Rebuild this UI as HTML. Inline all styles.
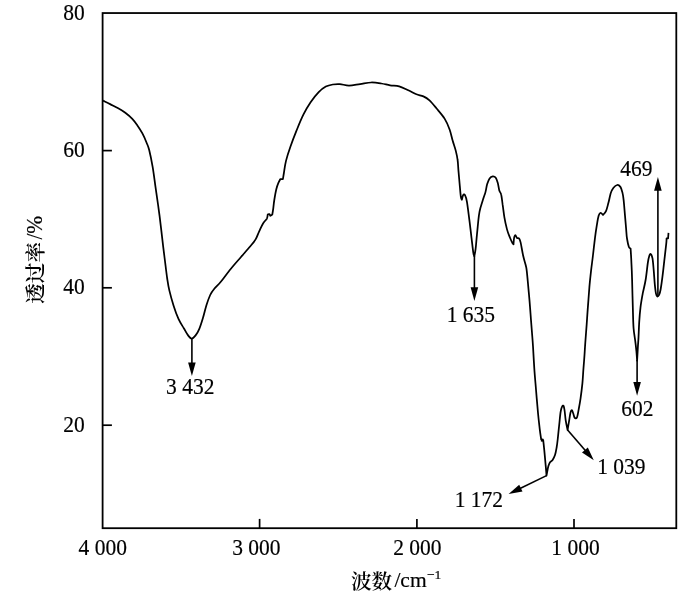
<!DOCTYPE html>
<html lang="zh"><head><meta charset="utf-8"><title>FTIR</title>
<style>
html,body{margin:0;padding:0;background:#fff}
svg{display:block}
text{font-family:"Liberation Serif","Noto Serif CJK SC",serif;font-size:22.6px;fill:#000;stroke:#000;stroke-width:0.18px}
.cjk{font-family:"Liberation Serif","Noto Serif CJK SC",serif;font-weight:600;stroke-width:0px}
</style></head><body>
<svg width="700" height="594" viewBox="0 0 700 594">
<rect width="700" height="594" fill="#fff"/>
<rect x="102.6" y="13.05" width="573.6999999999999" height="515.1500000000001" fill="none" stroke="#000" stroke-width="1.8"/>
<g stroke="#000" stroke-width="1.7"><line x1="259.6" y1="528.2" x2="259.6" y2="518.9"/><line x1="416.9" y1="528.2" x2="416.9" y2="518.9"/><line x1="574.0" y1="528.2" x2="574.0" y2="518.9"/><line x1="102.6" y1="150.6" x2="111.9" y2="150.6"/><line x1="102.6" y1="287.8" x2="111.9" y2="287.8"/><line x1="102.6" y1="425.2" x2="111.9" y2="425.2"/></g>
<path d="M103.0 100.6 C104.2 101.2 107.6 102.8 110.1 104.1 C112.6 105.4 115.7 106.8 118.2 108.2 C120.7 109.6 122.9 110.9 125.3 112.7 C127.7 114.5 130.3 116.7 132.3 118.8 C134.3 120.9 135.7 123.0 137.4 125.4 C139.1 127.8 140.9 130.6 142.4 133.4 C143.9 136.2 145.4 139.7 146.5 142.5 C147.6 145.3 148.2 146.0 149.2 150.0 C150.2 154.0 151.6 160.9 152.6 166.7 C153.6 172.5 154.3 178.4 155.2 184.8 C156.1 191.2 157.4 199.8 158.1 205.0 C158.8 210.2 158.9 211.0 159.6 216.2 C160.2 221.4 161.2 229.4 162.0 236.4 C162.8 243.4 163.7 251.0 164.6 258.0 C165.5 265.0 166.4 273.1 167.2 278.5 C168.0 283.9 168.3 286.1 169.4 290.6 C170.5 295.2 172.1 301.0 173.6 305.8 C175.1 310.6 176.9 315.5 178.6 319.2 C180.3 322.9 182.2 325.5 183.8 328.2 C185.4 330.9 186.8 333.7 188.1 335.4 C189.4 337.1 190.3 338.6 191.6 338.6 C192.8 338.6 194.3 337.0 195.6 335.4 C196.9 333.8 198.1 331.8 199.3 328.9 C200.5 326.0 201.8 321.8 203.0 317.8 C204.2 313.8 205.3 308.8 206.5 305.0 C207.7 301.2 208.9 297.8 210.2 295.0 C211.5 292.2 212.7 290.7 214.5 288.5 C216.3 286.3 218.1 285.1 220.8 281.8 C223.5 278.5 227.5 272.8 230.9 268.7 C234.3 264.6 237.8 260.7 241.0 257.0 C244.2 253.3 247.7 249.4 250.1 246.5 C252.5 243.6 254.1 241.9 255.6 239.4 C257.1 236.9 257.9 234.0 259.2 231.3 C260.5 228.6 261.9 225.3 263.2 223.2 C264.5 221.1 266.1 220.0 266.9 218.6 C267.6 217.2 267.6 215.2 267.7 214.5 C268.0 214.4 268.9 213.9 269.3 214.1 C269.7 214.3 270.1 215.5 270.3 215.8 C270.6 215.6 272.0 214.7 272.3 214.5 C272.5 213.4 273.0 210.5 273.3 208.1 C273.6 205.7 273.8 203.2 274.3 200.0 C274.8 196.8 275.6 192.0 276.3 189.2 C277.0 186.4 277.6 184.8 278.3 183.1 C279.0 181.4 280.0 179.8 280.3 179.1 C280.7 179.1 282.5 179.1 282.9 179.1 C283.1 178.1 283.4 176.0 283.9 173.0 C284.4 170.0 284.9 165.3 286.0 160.9 C287.1 156.5 288.6 151.9 290.4 146.8 C292.1 141.8 294.3 136.0 296.5 130.6 C298.7 125.2 301.1 119.1 303.5 114.4 C305.9 109.7 308.1 106.0 310.6 102.3 C313.1 98.6 316.2 94.8 318.7 92.2 C321.2 89.6 323.4 87.9 325.8 86.6 C328.2 85.3 330.5 84.9 332.8 84.5 C335.1 84.1 337.2 83.9 339.9 84.1 C342.6 84.3 345.6 85.6 349.0 85.6 C352.4 85.6 356.4 84.6 360.1 84.1 C363.8 83.6 367.7 82.6 371.2 82.5 C374.7 82.4 378.1 83.0 381.3 83.5 C384.5 84.0 387.1 84.8 390.1 85.3 C393.1 85.8 396.2 85.5 399.2 86.3 C402.2 87.1 405.4 89.0 408.3 90.3 C411.2 91.6 413.9 93.3 416.4 94.3 C418.9 95.3 421.2 95.4 423.4 96.4 C425.6 97.4 427.3 98.4 429.5 100.4 C431.7 102.4 434.1 105.5 436.6 108.5 C439.1 111.5 442.4 115.1 444.6 118.6 C446.8 122.1 448.4 126.0 449.7 129.7 C451.0 133.4 451.7 137.3 452.7 140.8 C453.7 144.3 455.0 147.7 455.8 150.9 C456.6 154.1 457.2 156.6 457.6 160.0 C458.1 163.4 458.1 166.8 458.5 171.1 C458.9 175.4 459.4 181.6 459.8 185.9 C460.2 190.2 460.5 194.7 460.9 197.0 C461.2 199.3 461.7 199.3 461.9 199.8 C462.1 199.0 462.6 196.0 463.1 195.2 C463.6 194.4 464.4 194.1 465.0 195.2 C465.6 196.3 466.2 197.7 466.9 201.7 C467.6 205.7 468.5 213.3 469.3 219.3 C470.1 225.3 470.8 232.2 471.5 237.8 C472.2 243.4 472.8 249.5 473.3 252.6 C473.8 255.7 474.1 255.7 474.3 256.3 C474.5 255.1 475.2 252.6 475.6 248.9 C476.1 245.2 476.4 239.7 477.0 234.1 C477.6 228.5 478.3 219.9 478.9 215.6 C479.5 211.3 479.6 211.0 480.4 208.1 C481.2 205.2 482.7 200.6 483.5 198.0 C484.3 195.4 484.8 194.7 485.4 192.4 C486.0 190.1 486.5 186.4 487.2 184.1 C487.9 181.8 488.7 179.8 489.6 178.5 C490.5 177.2 491.8 176.5 492.8 176.3 C493.8 176.2 494.8 176.5 495.6 177.6 C496.4 178.7 497.2 180.9 497.8 183.1 C498.4 185.3 498.8 188.7 499.3 190.6 C499.9 192.5 500.6 192.0 501.1 194.3 C501.7 196.6 502.1 200.6 502.6 204.4 C503.2 208.2 503.7 213.2 504.4 217.4 C505.1 221.6 506.1 226.0 507.0 229.4 C507.9 232.8 509.1 235.5 510.0 237.8 C510.9 240.1 512.0 242.2 512.6 243.3 C513.2 244.4 513.4 244.1 513.5 244.3 C513.6 243.2 513.8 239.4 514.1 237.8 C514.4 236.2 514.9 235.0 515.4 235.0 C515.9 235.0 516.2 237.2 516.9 237.8 C517.5 238.4 518.7 237.9 519.3 238.7 C519.9 239.5 519.9 239.5 520.6 242.4 C521.3 245.3 522.3 252.1 523.3 256.3 C524.2 260.5 525.5 263.4 526.3 267.6 C527.0 271.8 527.3 276.4 527.8 281.5 C528.3 286.6 528.8 292.6 529.3 298.1 C529.8 303.7 530.2 309.2 530.6 314.8 C531.0 320.4 531.5 326.2 531.9 331.5 C532.3 336.8 532.6 340.1 533.0 346.3 C533.4 352.5 533.8 361.1 534.3 368.5 C534.8 375.9 535.5 383.3 536.1 390.7 C536.7 398.1 537.4 406.5 538.0 413.0 C538.6 419.5 539.3 425.2 539.8 429.6 C540.3 434.0 541.0 437.8 541.2 439.4 C541.5 439.5 542.9 440.1 543.2 440.2 C543.4 441.9 543.9 446.3 544.3 450.4 C544.7 454.5 545.2 460.4 545.6 464.6 C546.0 468.8 546.4 473.8 546.5 475.6 C546.6 475.1 546.8 474.0 547.1 472.4 C547.4 470.8 547.9 467.8 548.4 466.1 C548.9 464.4 549.3 463.2 550.0 462.2 C550.7 461.2 551.8 461.1 552.6 459.9 C553.4 458.7 554.3 457.1 555.0 455.0 C555.7 452.9 556.2 449.8 556.7 447.0 C557.2 444.2 557.4 442.2 557.8 438.5 C558.2 434.8 558.7 429.5 559.2 425.0 C559.7 420.5 560.1 414.7 560.7 411.5 C561.3 408.3 562.4 406.0 563.0 405.6 C563.6 405.2 563.9 406.8 564.4 409.3 C564.9 411.8 565.2 416.9 565.7 420.4 C566.2 423.8 567.3 428.4 567.6 430.0 C567.8 428.7 568.4 425.0 568.9 422.2 C569.4 419.4 569.9 415.0 570.4 413.0 C570.9 411.0 571.4 410.2 571.9 410.2 C572.4 410.2 572.6 411.8 573.1 413.0 C573.6 414.2 574.0 416.8 574.6 417.6 C575.2 418.4 576.2 419.0 576.9 417.6 C577.6 416.2 578.1 412.6 578.7 409.3 C579.3 406.1 580.0 402.4 580.6 398.1 C581.2 393.8 581.9 388.3 582.4 383.3 C582.9 378.3 583.1 372.7 583.5 368.0 C583.9 363.3 584.2 359.7 584.5 355.0 C584.8 350.3 585.1 345.1 585.5 340.0 C585.9 334.9 586.3 329.8 586.7 324.1 C587.1 318.4 587.5 311.8 588.0 305.6 C588.5 299.4 588.9 292.9 589.4 287.0 C589.9 281.1 590.5 275.7 591.1 270.4 C591.7 265.1 592.4 260.4 593.0 255.0 C593.6 249.6 594.4 242.8 595.0 237.8 C595.6 232.8 596.3 228.5 596.9 224.8 C597.5 221.1 598.1 217.6 598.7 215.6 C599.3 213.6 599.9 212.9 600.6 212.8 C601.3 212.7 602.6 214.6 603.0 215.0 C603.5 214.3 605.2 213.0 606.1 210.9 C607.0 208.8 607.7 205.5 608.5 202.6 C609.3 199.7 609.9 195.8 610.7 193.3 C611.5 190.8 612.4 189.2 613.5 187.8 C614.6 186.4 616.1 185.2 617.2 185.0 C618.4 184.8 619.5 185.7 620.4 186.9 C621.3 188.1 621.8 190.1 622.4 192.4 C623.0 194.7 623.3 196.8 623.7 200.7 C624.1 204.6 624.6 211.0 625.0 215.6 C625.4 220.2 625.8 224.7 626.1 228.5 C626.4 232.3 626.5 235.4 627.0 238.5 C627.5 241.6 628.3 245.3 628.9 247.0 C629.5 248.7 630.3 248.3 630.6 248.6 C630.7 250.2 631.0 254.5 631.2 258.2 C631.4 261.9 631.6 267.4 631.8 271.0 C631.9 274.6 631.9 273.5 632.1 280.0 C632.3 286.5 632.6 301.9 632.9 310.0 C633.1 318.1 633.2 323.4 633.6 328.5 C634.0 333.6 634.7 336.8 635.2 340.6 C635.7 344.4 636.1 347.8 636.4 351.2 C636.7 354.6 637.0 359.2 637.1 360.8 C637.2 358.4 637.7 350.6 637.9 346.7 C638.1 342.8 638.3 341.7 638.5 337.6 C638.7 333.6 638.9 327.4 639.2 322.4 C639.5 317.3 639.9 312.1 640.5 307.3 C641.1 302.5 641.9 298.2 642.7 293.6 C643.6 289.1 644.8 285.1 645.6 280.0 C646.5 274.9 647.2 267.1 647.8 263.0 C648.4 258.9 648.9 257.0 649.4 255.5 C649.9 254.0 650.3 253.6 650.8 254.1 C651.3 254.6 652.0 255.6 652.5 258.3 C653.0 261.0 653.3 265.8 653.7 270.1 C654.1 274.4 654.4 280.4 654.8 284.3 C655.2 288.2 655.6 291.7 656.0 293.7 C656.4 295.7 656.7 296.3 657.2 296.5 C657.7 296.7 658.5 296.1 659.1 294.9 C659.7 293.6 660.2 291.9 660.7 289.0 C661.2 286.1 661.8 281.9 662.4 277.2 C663.0 272.5 663.7 266.2 664.3 260.7 C664.9 255.2 665.8 247.9 666.2 244.2 C666.6 240.5 666.5 239.3 666.6 238.3 C666.9 238.3 667.9 238.3 668.1 238.3 C668.2 237.4 668.4 233.7 668.5 232.8" fill="none" stroke="#000" stroke-width="1.75" stroke-linejoin="round" stroke-linecap="butt"/>
<path d="M540.9 440.1H543.3" stroke="#000" stroke-width="3" fill="none"/>
<line x1="191.9" y1="338.5" x2="191.9" y2="364.4" stroke="#000" stroke-width="1.60"/><polygon points="191.9,376.0 188.1,362.4 195.7,362.4" fill="#000"/><line x1="474.4" y1="256.0" x2="474.4" y2="289.3" stroke="#000" stroke-width="1.60"/><polygon points="474.4,300.9 470.6,287.3 478.2,287.3" fill="#000"/><line x1="546.5" y1="475.6" x2="519.0" y2="489.0" stroke="#000" stroke-width="1.60"/><polygon points="508.6,494.1 519.2,484.7 522.5,491.6" fill="#000"/><line x1="567.6" y1="430.0" x2="586.2" y2="451.5" stroke="#000" stroke-width="1.60"/><polygon points="593.8,460.3 582.0,452.5 587.8,447.5" fill="#000"/><line x1="637.1" y1="360.0" x2="637.1" y2="384.1" stroke="#000" stroke-width="1.60"/><polygon points="637.1,395.7 633.3,382.1 640.9,382.1" fill="#000"/><line x1="657.9" y1="296.0" x2="657.9" y2="188.7" stroke="#000" stroke-width="1.60"/><polygon points="657.9,177.1 661.7,190.7 654.1,190.7" fill="#000"/>
<text transform="translate(84.8,19.5) scale(0.951,1)" text-anchor="end">80</text><text transform="translate(84.8,157.0) scale(0.951,1)" text-anchor="end">60</text><text transform="translate(84.8,294.0) scale(0.951,1)" text-anchor="end">40</text><text transform="translate(84.8,431.8) scale(0.951,1)" text-anchor="end">20</text><text transform="translate(102.7,555.2) scale(0.951,1)" text-anchor="middle">4 000</text><text transform="translate(256.3,555.2) scale(0.951,1)" text-anchor="middle">3 000</text><text transform="translate(417.3,555.2) scale(0.951,1)" text-anchor="middle">2 000</text><text transform="translate(575.5,555.2) scale(0.951,1)" text-anchor="middle">1 000</text><text transform="translate(190.2,393.6) scale(0.951,1)" text-anchor="middle">3 432</text><text transform="translate(470.8,321.7) scale(0.951,1)" text-anchor="middle">1 635</text><text transform="translate(636.4,175.6) scale(0.951,1)" text-anchor="middle">469</text><text transform="translate(637.3,415.7) scale(0.951,1)" text-anchor="middle">602</text><text transform="translate(478.9,507.0) scale(0.951,1)" text-anchor="middle">1 172</text><text transform="translate(621.4,473.9) scale(0.951,1)" text-anchor="middle">1 039</text>
<text x="351" y="587.3" style="font-size:21.5px"><tspan class="cjk" font-size="20.6" dy="1.8">波数</tspan><tspan dy="-1.8" dx="2.2">/cm</tspan><tspan dy="-8.2" dx="0.3" font-size="13.5">−1</tspan></text><text transform="translate(42.5,303.8) rotate(-90)" style="font-size:20.6px" class="cjk">透过率</text><text transform="translate(41.9,239.6) rotate(-90) scale(0.951,1)">/%</text>
</svg>
</body></html>
